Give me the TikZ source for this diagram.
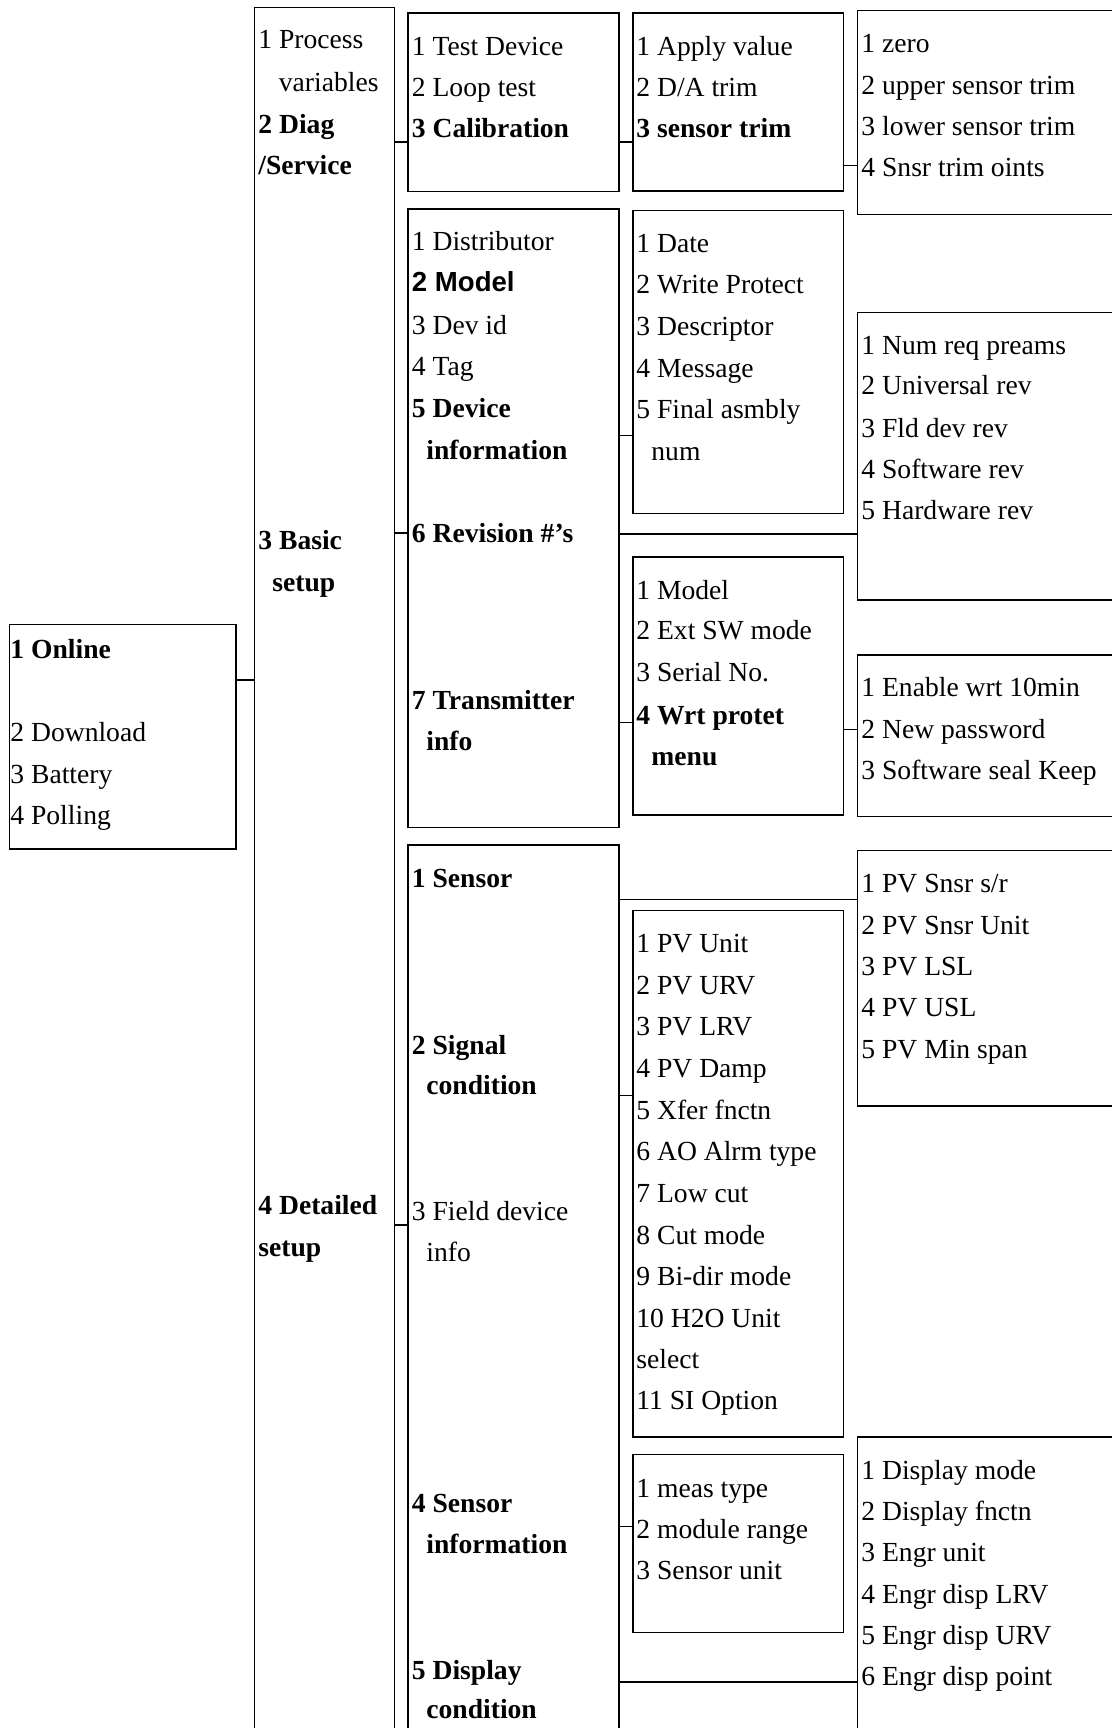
\documentclass[tikz,border=0pt]{standalone}
\usepackage{fontspec}
\setmainfont{Liberation Serif}
\newfontfamily\arialfam{Liberation Sans}
\usetikzlibrary{fit}
\newcommand\mkline[4]{\node[txt] (#1) at (#2,#3) {#4};}
\begin{document}
\begin{tikzpicture}[x=0.5pt,y=-0.5pt,
  box/.style={draw=black, line width=0.75pt, inner sep=0pt},
  txt/.style={inner sep=0pt, anchor=base west, font=\fontsize{13.8pt}{16pt}\selectfont},
  conn/.style={draw=black, line width=0.75pt}]
\useasboundingbox (0,0) rectangle (1112,1728);
\fill[white] (0,0) rectangle (1112,1728);
\clip (0,0) rectangle (1112,1728);
% boxes
\node[box, fit={(9.4,624.3) (235.9,849)}] (online) {};
\node[box, fit={(254.3,7.5) (394.7,1760)}] (col2) {};
\node[box, fit={(408.2,12.9) (619.2,191.4)}] (bA) {};
\node[box, fit={(408.2,208.9) (619.2,827.3)}] (bB) {};
\node[box, fit={(408.2,845) (619.2,1760)}] (bC) {};
\node[box, fit={(633,13.2) (843.7,191)}] (bD) {};
\node[box, fit={(633,210.4) (843.7,513.6)}] (bE) {};
\node[box, fit={(633,557) (843.7,815)}] (bF) {};
\node[box, fit={(633,910.5) (843.7,1437)}] (bG) {};
\node[box, fit={(633,1454.7) (843.7,1632.7)}] (bH) {};
\node[box, fit={(857.3,10.7) (1140,214.3)}] (bI) {};
\node[box, fit={(857.3,312.5) (1140,600)}] (bJ) {};
\node[box, fit={(857.3,655) (1140,816.3)}] (bK) {};
\node[box, fit={(857.3,850.7) (1140,1106)}] (bL) {};
\node[box, fit={(857.3,1437) (1140,1760)}] (bM) {};
% connector levels
\coordinate (kOn) at (0,680);
\coordinate (kA) at (0,142.1);
\coordinate (kB) at (0,533.2);
\coordinate (kC) at (0,1225);
\coordinate (kD) at (0,142.1);
\coordinate (kI) at (0,165.4);
\coordinate (kE) at (0,435.7);
\coordinate (kJ) at (0,534);
\coordinate (kF) at (0,722.7);
\coordinate (kK) at (0,729.3);
\coordinate (kL) at (0,899.3);
\coordinate (kG) at (0,1095.7);
\coordinate (kH) at (0,1526.7);
\coordinate (kM) at (0,1682);
\draw[conn] (online.east |- kOn) -- (col2.west |- kOn);
\draw[conn] (col2.east |- kA) -- (bA.west |- kA);
\draw[conn] (col2.east |- kB) -- (bB.west |- kB);
\draw[conn] (col2.east |- kC) -- (bC.west |- kC);
\draw[conn] (bA.east |- kD) -- (bD.west |- kD);
\draw[conn] (bD.east |- kI) -- (bI.west |- kI);
\draw[conn] (bB.east |- kE) -- (bE.west |- kE);
\draw[conn] (bB.east |- kJ) -- (bJ.west |- kJ);
\draw[conn] (bB.east |- kF) -- (bF.west |- kF);
\draw[conn] (bF.east |- kK) -- (bK.west |- kK);
\draw[conn] (bC.east |- kL) -- (bL.west |- kL);
\draw[conn] (bC.east |- kG) -- (bG.west |- kG);
\draw[conn] (bC.east |- kH) -- (bH.west |- kH);
\draw[conn] (bC.east |- kM) -- (bM.west |- kM);
% online box
\mkline{on1}{10}{658.3}{\bfseries 1 Online}
\mkline{on2}{10}{741.7}{2 Download}
\mkline{on3}{10}{783.3}{3 Battery}
\mkline{on4}{10}{824}{4 Polling}
% column 2
\mkline{c2a}{258}{48.3}{1 Process}
\mkline{c2b}{278.5}{91.1}{variables}
\mkline{c2c}{258}{134}{\bfseries 2 Diag}
\mkline{c2d}{258}{175}{\bfseries /Service}
\mkline{c2e}{258}{549}{\bfseries 3 Basic}
\mkline{c2f}{272}{591}{\bfseries setup}
\mkline{c2g}{258}{1214}{\bfseries 4 Detailed}
\mkline{c2h}{258}{1256.3}{\bfseries setup}
% box A
\mkline{a1}{411.5}{55.4}{1 Test Device}
\mkline{a2}{411.5}{96.5}{2 Loop test}
\mkline{a3}{411.5}{137.6}{\bfseries 3 Calibration}
% box B
\mkline{b1}{411.5}{250}{1 Distributor}
\mkline{b2}{411.5}{292}{\arialfam\bfseries 2 Model}
\mkline{b3}{411.5}{334}{3 Dev id}
\mkline{b4}{411.5}{375}{4 Tag}
\mkline{b5}{411.5}{417}{\bfseries 5 Device}
\mkline{b6}{426}{459}{\bfseries information}
\mkline{b7}{411.5}{542}{\bfseries 6 Revision \#’s}
\mkline{b8}{411.5}{709}{\bfseries 7 Transmitter}
\mkline{b9}{426}{750.7}{\bfseries info}
% box C
\mkline{cc1}{411.5}{887.3}{\bfseries 1 Sensor}
\mkline{cc2}{411.5}{1054}{\bfseries 2 Signal}
\mkline{cc3}{426}{1094}{\bfseries condition}
\mkline{cc4}{411.5}{1220.7}{3 Field device}
\mkline{cc5}{426}{1261.3}{info}
\mkline{cc6}{411.5}{1512.3}{\bfseries 4 Sensor}
\mkline{cc7}{426}{1553}{\bfseries information}
\mkline{cc8}{411.5}{1679}{\bfseries 5 Display}
\mkline{cc9}{426}{1718.3}{\bfseries condition}
% box D
\mkline{d1}{636}{55.4}{1 Apply value}
\mkline{d2}{636}{96.5}{2 D/A trim}
\mkline{d3}{636}{137.6}{\bfseries 3 sensor trim}
% box E
\mkline{e1}{636}{252.6}{1 Date}
\mkline{e2}{636}{293.6}{2 Write Protect}
\mkline{e3}{636}{335}{3 Descriptor}
\mkline{e4}{636}{377}{4 Message}
\mkline{e5}{636}{418}{5 Final asmbly}
\mkline{e6}{651}{460}{num}
% box F
\mkline{f1}{636}{599}{1 Model}
\mkline{f2}{636}{639.7}{2 Ext SW mode}
\mkline{f3}{636}{681.7}{3 Serial No.}
\mkline{f4}{636}{724}{\bfseries 4 Wrt protet}
\mkline{f5}{651}{765}{\bfseries menu}
% box G
\mkline{g1}{636}{952}{1 PV Unit}
\mkline{g2}{636}{994}{2 PV URV}
\mkline{g3}{636}{1035}{3 PV LRV}
\mkline{g4}{636}{1077.3}{4 PV Damp}
\mkline{g5}{636}{1119}{5 Xfer fnctn}
\mkline{g6}{636}{1160.7}{6 AO Alrm type}
\mkline{g7}{636}{1202.3}{7 Low cut}
\mkline{g8}{636}{1244}{8 Cut mode}
\mkline{g9}{636}{1285}{9 Bi-dir mode}
\mkline{g10}{636}{1327}{10 H2O Unit}
\mkline{g11}{636}{1368.3}{select}
\mkline{g12}{636}{1409.7}{11 SI Option}
% box H
\mkline{h1}{636}{1497.3}{1 meas type}
\mkline{h2}{636}{1538.3}{2 module range}
\mkline{h3}{636}{1579}{3 Sensor unit}
% box I
\mkline{i1}{861}{52.6}{1 zero}
\mkline{i2}{861}{94.7}{2 upper sensor trim}
\mkline{i3}{861}{135.8}{3 lower sensor trim}
\mkline{i4}{861}{176.9}{4 Snsr trim oints}
% box J
\mkline{j1}{861}{354.7}{1 Num req preams}
\mkline{j2}{861}{394.7}{2 Universal rev}
\mkline{j3}{861}{437}{3 Fld dev rev}
\mkline{j4}{861}{478.6}{4 Software rev}
\mkline{j5}{861}{519.7}{5 Hardware rev}
% box K
\mkline{k1}{861}{696.3}{1 Enable wrt 10min}
\mkline{k2}{861}{738}{2 New password}
\mkline{k3}{861}{779}{3 Software seal Keep}
% box L
\mkline{l1}{861}{892.3}{1 PV Snsr s/r}
\mkline{l2}{861}{934}{2 PV Snsr Unit}
\mkline{l3}{861}{975.7}{3 PV LSL}
\mkline{l4}{861}{1016.7}{4 PV USL}
\mkline{l5}{861}{1058.3}{5 PV Min span}
% box M
\mkline{m1}{861}{1479.7}{1 Display mode}
\mkline{m2}{861}{1520.7}{2 Display fnctn}
\mkline{m3}{861}{1561.7}{3 Engr unit}
\mkline{m4}{861}{1603}{4 Engr disp LRV}
\mkline{m5}{861}{1644}{5 Engr disp URV}
\mkline{m6}{861}{1685.7}{6 Engr disp point}
\end{tikzpicture}
\end{document}
